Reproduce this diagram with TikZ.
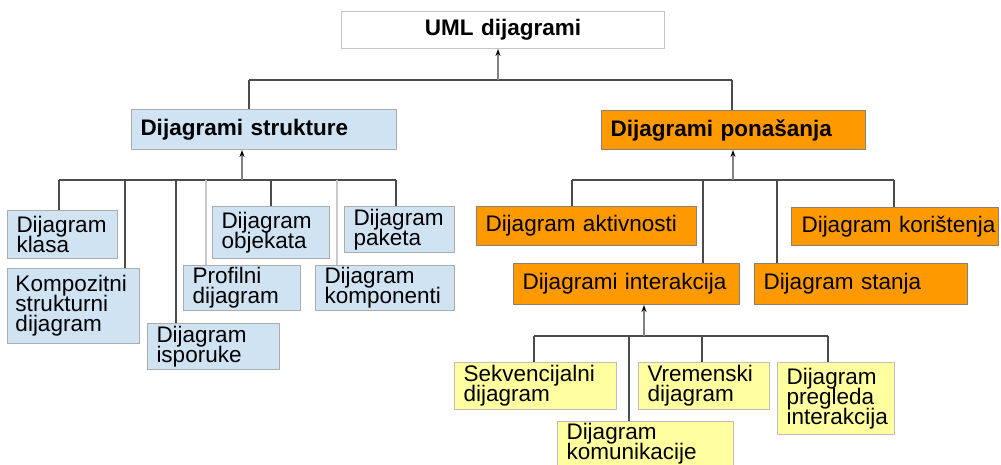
\documentclass[tikz,border=0pt]{standalone}
\usepackage{fontspec}
\setmainfont{Liberation Sans}
\usetikzlibrary{arrows.meta}
\usetikzlibrary{positioning}

\definecolor{strblue}{RGB}{207,227,243}
\definecolor{ponorange}{RGB}{255,153,0}
\definecolor{intyellow}{RGB}{255,255,160}
\definecolor{linegray}{RGB}{75,75,75}
\definecolor{palegray}{RGB}{200,200,200}
\definecolor{arrowgray}{RGB}{130,130,130}

\begin{document}
\begin{tikzpicture}[x=1pt,y=-1pt,>={Stealth[length=7pt,width=5pt,color=black]},
    box/.style={draw=gray!65,line width=1pt,anchor=north west,align=left,inner xsep=9pt,inner ysep=0pt,
      font={\fontsize{22.5}{20}\selectfont\lineskiplimit=-\maxdimen\hyphenpenalty=10000}},
    head box/.style={box,font={\fontsize{22.5}{24}\selectfont\bfseries}},
    blue box/.style={box,fill=strblue},
    orange box/.style={box,fill=ponorange,draw=gray!80!brown},
    yellow box/.style={box,fill=intyellow,draw=gray!50},
    bus/.style={draw=linegray,line width=1.6pt},
    pale bus/.style={draw=palegray,line width=1.6pt},
    up arrow/.style={->,draw=arrowgray,line width=1.4pt}]

    \path[use as bounding box,fill=white] (0,0) rectangle (1001,465);

    % top level
    \node[head box,fill=white,draw=gray!45,align=center,text width=305pt,minimum height=37pt] (uml) at (341,11) {UML dijagrami};
    \node[head box,fill=strblue,text width=247pt,minimum height=40pt] (str) at (131,109) {Dijagrami strukture};
    \node[head box,fill=ponorange,draw=gray!80!brown,text width=246pt,minimum height=39pt] (pon) at (601,110) {Dijagrami ponašanja};

    % structure diagrams
    \node[blue box,text width=92pt,minimum height=48pt]  (kla) at (7,210)   {Dijagram\\klasa};
    \node[blue box,text width=116pt,inner xsep=8pt,minimum height=75pt] (kst) at (7,268) {Kompozitni\\strukturni\\dijagram};
    \node[blue box,text width=114pt,minimum height=46pt] (isp) at (147,323) {Dijagram\\isporuke};
    \node[blue box,text width=99pt,minimum height=45pt]  (pro) at (183,265) {Profilni\\dijagram};
    \node[blue box,text width=99pt,minimum height=52pt]  (obj) at (212,206) {Dijagram\\objekata};
    \node[blue box,text width=92pt,minimum height=46pt]  (pak) at (344,206) {Dijagram\\paketa};
    \node[blue box,text width=121pt,minimum height=45pt] (kom) at (315,265) {Dijagram\\komponenti};

    % behaviour diagrams
    \node[orange box,text width=202pt,minimum height=39pt] (akt) at (476,206) {Dijagram aktivnosti};
    \node[orange box,inner xsep=10pt,text width=187pt,minimum height=38pt] (kor) at (791,207) {\mbox{Dijagram korištenja}};
    \node[orange box,text width=208pt,minimum height=41pt] (int) at (513,263) {Dijagrami interakcija};
    \node[orange box,text width=195pt,minimum height=41pt] (sta) at (754,263) {Dijagram stanja};

    % interaction diagrams
    \node[yellow box,text width=144pt,minimum height=47pt] (sek) at (454,362) {Sekvencijalni\\dijagram};
    \node[yellow box,text width=113pt,minimum height=47pt] (vre) at (638,362) {Vremenski\\dijagram};
    \node[yellow box,text width=99pt,minimum height=72pt]  (pre) at (777,362) {Dijagram\\pregleda\\interakcija};
    \node[yellow box,text width=158pt,minimum height=44pt] (kmk) at (557,421) {Dijagram\\komunikacije};

    % bus points
    \coordinate (t0) at (498,80);
    \coordinate (t1) at (249,80);
    \coordinate (t2) at (732,80);

    \coordinate (s0) at (242,180);
    \coordinate (s1) at (59,180);
    \coordinate (s2) at (125,180);
    \coordinate (s3) at (176,180);
    \coordinate (s4) at (206,180);
    \coordinate (s5) at (271,180);
    \coordinate (s6) at (337,180);
    \coordinate (s7) at (396,180);

    \coordinate (p0) at (733,180);
    \coordinate (p1) at (572,180);
    \coordinate (p2) at (703,180);
    \coordinate (p3) at (777,180);
    \coordinate (p4) at (894,180);

    \coordinate (i0) at (644,336);
    \coordinate (i1) at (534,336);
    \coordinate (i2) at (629,336);
    \coordinate (i3) at (702,336);
    \coordinate (i4) at (828,336);

    % UML dijagrami
    \draw[bus] (t1) -- (t2);
    \draw[bus] (t1) -- (str.north -| t1);
    \draw[bus] (t2) -- (pon.north -| t2);
    \draw[up arrow] (t0) -- (uml.south -| t0);

    % Dijagrami strukture
    \draw[bus] (s1) -- (s7);
    \draw[bus] (s1) -- (kla.north -| s1);
    \draw[bus] (s2) -- (kst.north -| s2);
    \draw[bus] (s3) -- (isp.north -| s3);
    \draw[pale bus] (s4) -- (pro.north -| s4);
    \draw[bus] (s5) -- (obj.north -| s5);
    \draw[pale bus] (s6) -- (kom.north -| s6);
    \draw[bus] (s7) -- (pak.north -| s7);
    \draw[up arrow] (s0) -- (str.south -| s0);

    % Dijagrami ponasanja
    \draw[bus] (p1) -- (p4);
    \draw[bus] (p1) -- (akt.north -| p1);
    \draw[bus] (p2) -- (int.north -| p2);
    \draw[bus] (p3) -- (sta.north -| p3);
    \draw[bus] (p4) -- (kor.north -| p4);
    \draw[up arrow] (p0) -- (pon.south -| p0);

    % Dijagrami interakcija
    \draw[bus] (i1) -- (i4);
    \draw[bus] (i1) -- (sek.north -| i1);
    \draw[bus] (i2) -- (kmk.north -| i2);
    \draw[bus] (i3) -- (vre.north -| i3);
    \draw[bus] (i4) -- (pre.north -| i4);
    \draw[up arrow] (i0) -- (int.south -| i0);

\end{tikzpicture}
\end{document}
